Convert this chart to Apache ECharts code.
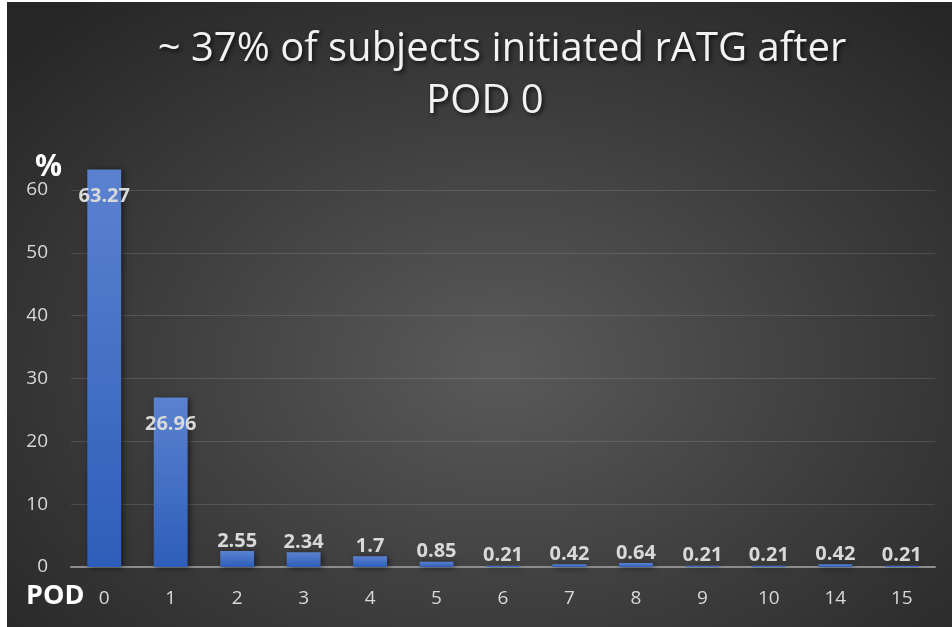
<!DOCTYPE html>
<html>
<head>
<meta charset="utf-8">
<script src="https://cdn.jsdelivr.net/npm/echarts@6/dist/echarts.min.js"></script>
<style>
  html, body { margin: 0; padding: 0; background: #ffffff; }
  #chart {
    position: absolute; left: 7px; top: 2px; width: 945px; height: 625px;
    background: radial-gradient(ellipse 70% 75% at 52% 58%, #5a5a5a 0%, #3a3a3a 60%, #262626 100%);
  }
</style>
</head>
<body>
<div id="chart"></div>
<script>
// POD day categories and share of subjects (%)
var podDays = ['0', '1', '2', '3', '4', '5', '6', '7', '8', '9', '10', '14', '15'];
var pctValues = [63.27, 26.96, 2.55, 2.34, 1.7, 0.85, 0.21, 0.42, 0.64, 0.21, 0.21, 0.42, 0.21];
var yTicks = [0, 10, 20, 30, 40, 50, 60];

var myChart = echarts.init(document.getElementById('chart'));

var font = '"Open Sans", "Noto Sans", sans-serif';

var titleStyle = {
    color: '#f2f2f2',
    fontFamily: font,
    fontWeight: 'normal',
    fontSize: 40,
    textShadowColor: 'rgba(0,0,0,0.7)',
    textShadowBlur: 4,
    textShadowOffsetX: 2,
    textShadowOffsetY: 2
};

var barData = pctValues.map(function (v) {
    var big = v > 20;
    return {
        value: v,
        label: big ? { position: 'insideTop', distance: 17 } : { position: 'top', distance: 0 }
    };
});

var option = {
    title: [
        { text: '~ 37% of subjects initiated rATG after', left: 490, textAlign: 'center', top: 23, textStyle: titleStyle },
        { text: 'POD 0', left: 473, textAlign: 'center', top: 75, textStyle: titleStyle }
    ],
    grid: {
        left: 64,
        right: 17,
        top: 188,
        bottom: 60
    },
    xAxis: {
        type: 'category',
        data: podDays,
        axisLine: { lineStyle: { color: '#8c8c8c', width: 2 } },
        axisTick: { show: false },
        axisLabel: {
            color: '#d9d9d9',
            fontFamily: font,
            fontSize: 19,
            margin: 22
        }
    },
    yAxis: {
        type: 'value',
        min: yTicks[0],
        max: yTicks[yTicks.length - 1],
        interval: 10,
        axisLine: { show: false },
        axisTick: { show: false },
        splitLine: { lineStyle: { color: 'rgba(255,255,255,0.12)', width: 1 } },
        axisLabel: {
            color: '#d9d9d9',
            fontFamily: font,
            fontSize: 19,
            margin: 23
        }
    },
    graphic: [
        {
            type: 'text', left: 28, top: 150,
            style: { text: '%', fill: '#ffffff', font: 'bold 30px ' + font }
        },
        {
            type: 'text', left: 19, top: 581,
            style: { text: 'POD', fill: '#ffffff', font: 'bold 27px ' + font }
        }
    ],
    series: [{
        type: 'bar',
        data: barData,
        clip: false,
        barCategoryGap: '49%',
        itemStyle: {
            color: new echarts.graphic.LinearGradient(0, 0, 0, 1, [
                { offset: 0, color: '#5b82d0' },
                { offset: 1, color: '#2e5eb9' }
            ]),
            shadowColor: 'rgba(0,0,0,0.55)',
            shadowBlur: 6,
            shadowOffsetX: 2,
            shadowOffsetY: 1
        },
        label: {
            show: true,
            color: '#d9d9d9',
            fontFamily: font,
            fontWeight: 'bold',
            fontSize: 20
        }
    }]
};

myChart.setOption(option);
</script>
</body>
</html>
